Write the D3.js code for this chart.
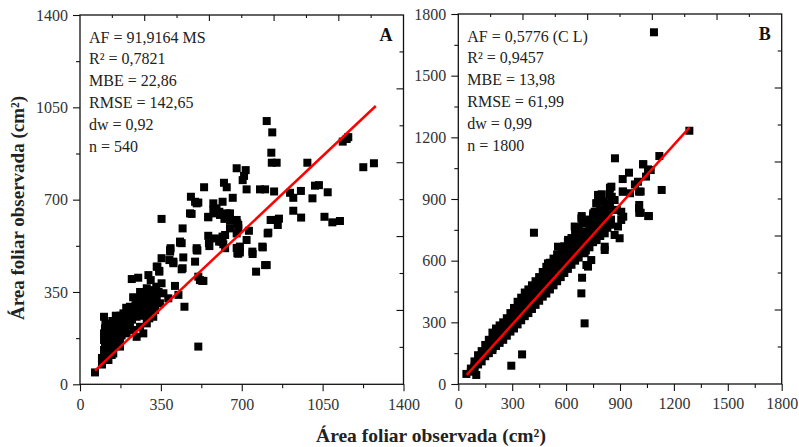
<!DOCTYPE html>
<html>
<head>
<meta charset="utf-8">
<script src="https://cdn.jsdelivr.net/npm/d3@7"></script>
<style>
  body { margin: 0; background: #fff; }
  svg { display: block; font-family: "Liberation Serif", "DejaVu Serif", serif; }
</style>
</head>
<body>
<div id="chart"></div>
<script>
// panel A: [estimada, observada]
const pointsA = [
  [808,998],[832,955],[828,878],[830,840],[851,840],[984,840],[1137,920],[1154,930],[1161,937],[1226,823],[1272,838],
  [678,819],[717,812],[710,790],[704,774],[721,739],[779,739],[801,739],[840,731],[909,726],[923,707],[956,733],
  [1017,753],[1034,755],[1072,728],[1006,705],[623,764],[635,747],[537,747],[661,707],[480,711],[498,692],[512,689],
  [577,686],[591,667],[617,692],[603,654],[584,648],[649,648],[555,633],[625,627],[483,646],[353,627],[678,623],
  [685,604],[678,572],[444,591],[555,563],[628,566],[606,547],[620,531],[433,541],[392,516],[505,516],[558,535],
  [692,522],[731,582],[789,522],[746,503],[815,575],[830,623],[861,628],[856,604],[923,658],[957,632],[1058,635],
  [1092,614],[1125,619],
  [65,45],[512,143],[452,294],[534,392],[512,408],[498,465],[508,507],[560,524],[613,541],[628,516],[678,517],
  [692,500],[685,495],[747,494],[791,519],[801,452],[762,427],[433,537],[447,481],[440,436],[411,373],[426,339],
  [390,503],[353,478],[335,446],[343,430],[387,471],[404,459],[224,399],[252,404],[296,414],[306,395],[289,364],
  [353,383],[361,345],[382,326],[346,307],[104,256],[108,212],[115,180],[130,168],[108,143],[115,111],[108,92],
  [144,117],[173,143],
  [332,446],[343,427],[390,509],[404,465],[440,535],[444,440],[505,509],[519,395],[529,392],[602,541],[617,560],
  [681,497],[690,516],[721,547],[808,452],[812,572],[851,623],[825,623],[649,620],[681,610],[649,591],[685,591],
  [555,635],[577,661],[606,642],[635,648],[476,648],[505,686],[584,553],
  [130,155],[159,180],[188,206],[216,231],[245,256],[274,282],[303,307],[216,294],[188,269],[159,244],[245,320],
  [267,339],[289,345],[202,193],[231,206],[260,218],[289,231],[317,256],[325,282],[274,193],[245,180],[173,168],
  [144,143],[123,193],[137,218],[173,231],[202,256],[231,275],[252,294],[281,313],[303,332],[310,357],[332,326],
  [104,193],[104,168],[104,130],[123,92],[137,111],
  [150,200],[165,215],[180,240],[195,250],[210,270],[225,285],[240,300],[255,310],[270,325],[285,300],[300,280],
  [315,300],[120,170],[135,190],[150,175],[165,195],[180,185],[195,215],[210,225],[225,245],[240,260],[255,270],
  [270,260],[285,260],[300,250],[320,330],[340,350],[330,370],[260,350],[230,330],[200,290],[175,260],[155,260],
  [140,240],[120,215],[110,120],[95,100],[125,130],[140,160],[160,150],[110,230],[95,75]
];

// panel B: [estimada, observada]
const pointsB = [
  [1089,1711],[1286,1232],[1119,1109],[872,1098],[1030,1069],[1071,1041],[1045,1009],[950,1028],[915,997],
  [983,971],[1006,936],[915,936],[956,928],[1132,944],[844,955],[798,923],[779,911],[854,911],[770,879],[807,887],
  [844,879],[882,847],[687,817],[751,830],[788,838],[826,847],[918,814],[1057,817],[1007,871],[1007,833],
  [1028,1069],[1056,1044],[1000,984],[1015,936],[917,936],[1061,817],[1006,855],[1015,833],
  [852,960],[842,920],[778,920],[768,879],[824,879],[870,895],[852,847],[796,847],[759,838],[907,838],[907,798],
  [889,766],[898,709],[815,733],[870,725],[815,668],[778,798],[685,806],[648,766],[666,733],[611,701],[703,701],
  [740,766],[778,733],[421,736],[555,668],[648,668],[703,636],[555,620],[499,587],[740,603],[722,571],
  [45,49],[100,44],[295,89],[355,144],[703,295],[685,441],[689,517],[713,579],[815,652],
  [70,75],[70,60],[90,110],[90,85],[90,70],[110,140],[110,115],[110,95],[130,160],[130,135],[130,110],
  [150,190],[150,160],[150,135],[170,215],[170,175],[170,150],[190,250],[190,205],[190,175],[190,165],
  [210,270],[210,230],[210,195],[210,185],[230,285],[230,250],[230,215],[230,200],[250,300],[250,265],[250,235],
  [250,215],[270,320],[270,290],[270,255],[270,235],[290,345],[290,310],[290,275],[290,255],[310,370],[310,330],
  [310,295],[310,270],[330,400],[330,350],[330,315],[330,290],[350,420],[350,375],[350,335],[350,310],
  [370,445],[370,395],[370,355],[370,330],[390,460],[390,420],[390,375],[390,345],[410,480],[410,440],[410,395],
  [410,365],[430,500],[430,460],[430,415],[430,385],[450,520],[450,480],[450,435],[450,405],[470,545],[470,500],
  [470,455],[470,425],[490,570],[490,520],[490,475],[490,440],[510,590],[510,540],[510,495],[510,460],
  [530,610],[530,560],[530,515],[530,480],[550,630],[550,580],[550,535],[550,500],[570,650],[570,600],[570,555],
  [570,520],[590,670],[590,620],[590,575],[590,540],[610,690],[610,640],[610,595],[610,560],[630,710],[630,660],
  [630,615],[630,580],[650,735],[650,680],[650,635],[650,600],[670,760],[670,700],[670,655],[670,615],
  [690,780],[690,720],[690,675],[690,640],[710,790],[710,740],[710,690],[710,650],[730,800],[730,760],[730,705],
  [730,665],[750,820],[750,775],[750,725],[750,690],[770,835],[770,790],[770,745],[770,700],[790,850],[790,800],
  [790,760],[790,720],[810,820],[810,770],[810,735],[830,830],[830,790],[830,760],[850,800],[850,775]
];

// 1:1 fitted lines (endpoints)
const fitA = [[65,52],[1280,1055]];
const fitB = [[47,44],[1286,1247]];

const ticksA = [0,350,700,1050,1400];
const ticksB = [0,300,600,900,1200,1500,1800];

const statsA = ["AF = 91,9164 MS","R² = 0,7821","MBE = 22,86","RMSE = 142,65","dw = 0,92","n = 540"];
const statsB = ["AF = 0,5776 (C L)","R² = 0,9457","MBE = 13,98","RMSE = 61,99","dw = 0,99","n = 1800"];

const width = 799, height = 447;
const serif = "Liberation Serif, serif";

const svg = d3.select("#chart").append("svg")
  .attr("width", width)
  .attr("height", height);

function drawPanel(opts) {
  const { points, fit, ticks, stats, letter, left, right, top, bottom } = opts;
  const max = ticks[ticks.length - 1];
  const step = ticks[1] - ticks[0];

  const x = d3.scaleLinear().domain([0, max]).range([left, right]);
  const y = d3.scaleLinear().domain([0, max]).range([bottom, top]);

  const minor = d3.range(step / 2, max, step);
  const g = svg.append("g");

  // bottom axis: major + minor, outward
  g.append("g")
    .attr("transform", `translate(0,${bottom})`)
    .call(d3.axisBottom(x).tickValues(minor).tickSize(4).tickFormat("").tickSizeOuter(0));
  g.append("g")
    .attr("class", "lab")
    .attr("transform", `translate(0,${bottom})`)
    .call(d3.axisBottom(x).tickValues(ticks).tickSize(7).tickPadding(7).tickSizeOuter(0).tickFormat(d3.format("d")));

  // left axis
  g.append("g")
    .attr("transform", `translate(${left},0)`)
    .call(d3.axisLeft(y).tickValues(minor).tickSize(4).tickFormat("").tickSizeOuter(0));
  g.append("g")
    .attr("class", "lab")
    .attr("transform", `translate(${left},0)`)
    .call(d3.axisLeft(y).tickValues(ticks).tickSize(7).tickPadding(5).tickSizeOuter(0).tickFormat(d3.format("d")));

  // top and right: 10 divisions, inward ticks
  const tenth = d3.range(1, 10).map(i => i * max / 10);
  g.append("g").selectAll("line.tt")
    .data(tenth)
    .join("line")
      .attr("x1", d => x(d)).attr("x2", d => x(d))
      .attr("y1", top)
      .attr("y2", (d, i) => top + (i % 2 ? 6 : 3));
  g.append("g").selectAll("line.rt")
    .data(tenth)
    .join("line")
      .attr("y1", d => y(d)).attr("y2", d => y(d))
      .attr("x1", right)
      .attr("x2", (d, i) => right - (i % 2 ? 7 : 4));

  g.selectAll("line").attr("stroke", "#111").attr("stroke-width", 1.1);
  g.selectAll(".domain").remove();

  g.selectAll(".lab")
    .attr("font-family", serif)
    .attr("font-size", 16);
  g.selectAll(".lab text")
    .attr("fill", "#333");

  // frame
  g.append("rect")
    .attr("x", left).attr("y", top)
    .attr("width", right - left).attr("height", bottom - top)
    .attr("fill", "none")
    .attr("stroke", "#111")
    .attr("stroke-width", 1.3);

  // points
  g.append("g")
    .selectAll("rect")
    .data(points)
    .join("rect")
      .attr("x", d => x(d[0]) - 4)
      .attr("y", d => y(d[1]) - 4)
      .attr("width", 8)
      .attr("height", 8)
      .attr("fill", "#000");

  // fitted line
  g.append("line")
    .attr("x1", x(fit[0][0])).attr("y1", y(fit[0][1]))
    .attr("x2", x(fit[1][0])).attr("y2", y(fit[1][1]))
    .attr("stroke", "#ff0000")
    .attr("stroke-width", 2.5);

  // stats text
  g.append("g")
    .selectAll("text")
    .data(stats)
    .join("text")
      .attr("x", left + 9)
      .attr("y", (d, i) => top + 27.5 + i * 21.8)
      .attr("font-size", 16)
      .attr("fill", "#222")
      .text(d => d);

  g.append("text")
    .attr("x", right - 11)
    .attr("y", top + 26)
    .attr("text-anchor", "end")
    .attr("font-size", 18)
    .attr("font-weight", "bold")
    .attr("fill", "#111")
    .text(letter);
}

drawPanel({ points: pointsA, fit: fitA, ticks: ticksA, stats: statsA, letter: "A",
  left: 80, right: 403.5, top: 15, bottom: 384.3 });
drawPanel({ points: pointsB, fit: fitB, ticks: ticksB, stats: statsB, letter: "B",
  left: 458.3, right: 781.7, top: 14, bottom: 384 });

// axis titles
svg.append("text")
  .attr("x", 431)
  .attr("y", 442)
  .attr("text-anchor", "middle")
  .attr("font-size", 19.5)
  .attr("font-weight", "bold")
  .attr("fill", "#222")
  .text("Área foliar observada (cm²)");

svg.append("text")
  .attr("transform", "translate(24,208) rotate(-90)")
  .attr("text-anchor", "middle")
  .attr("font-size", 19)
  .attr("font-weight", "bold")
  .attr("fill", "#222")
  .text("Área foliar observada (cm²)");
</script>
</body>
</html>
